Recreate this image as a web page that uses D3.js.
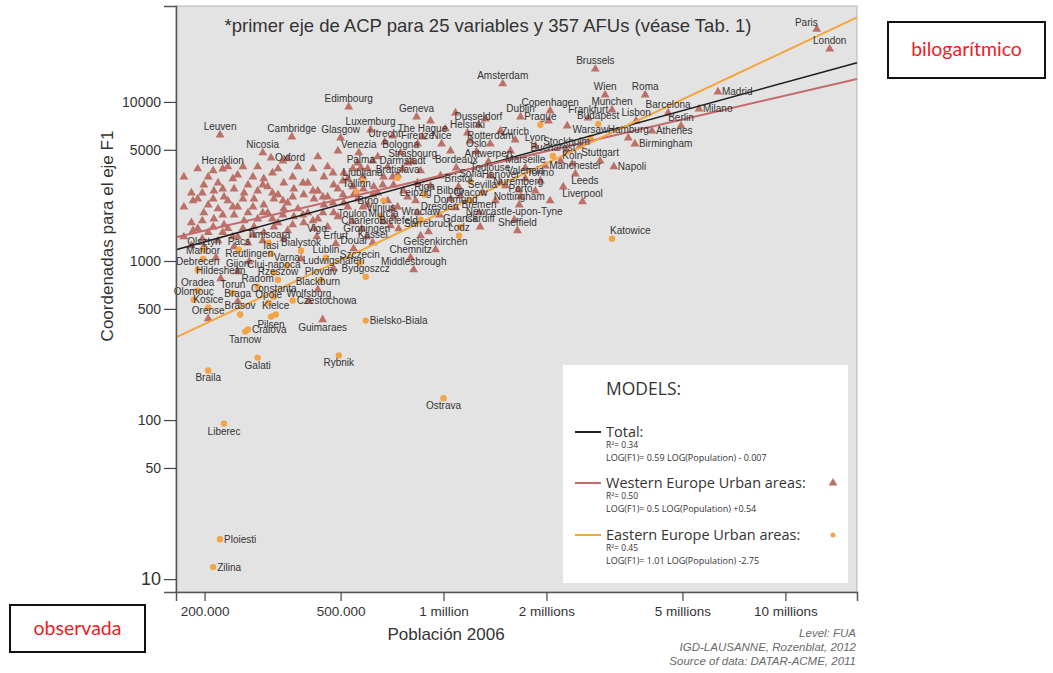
<!DOCTYPE html>
<html><head><meta charset="utf-8">
<script src="https://cdn.jsdelivr.net/npm/d3@7"></script>
<style>body{margin:0;background:#fff}</style>
</head><body>
<svg id="chart" width="1053" height="673"></svg>
<script>
// Western Europe urban areas with a name: [name, population 2006 (thousands), F1 coordinate]
const westNamed = [
  ["Paris",12350,28700],["London",13480,21500],["Brussels",2780,16100],["Amsterdam",1490,13000],
  ["Wien",2970,11070],["Roma",3890,11070],["Madrid",6350,11560],["Edimbourg",528,9300],
  ["Copenhagen",2050,8780],["Munchen",3110,8910],["Barcelona",4540,8530],["Dublin",1680,8050],
  ["Frankfurt",2650,7940],["Lisbon",3660,7600],["Milano",5590,9040],["Geneva",834,8050],
  ["Dusseldorf",1265,7180],["Berlin",4950,7070],["Luxemburg",612,6670],["Helsinki",1175,6380],
  ["The Hague",868,6030],["Glasgow",500,5940],["Leuven",222,6210],["Cambridge",360,6030],
  ["Utrecht",673,5610],["Firenze",840,5450],["Nice",987,5450],["Rotterdam",1370,5450],
  ["Zurich",1620,5770],["Lyon",1856,5290],["Nicosia",296,4790],["Venezia",565,4790],
  ["Bologna",749,4790],["Stockholm",2290,5000],["Oslo",1248,4860],["Birmingham",3630,5450],
  ["Strasbourg",812,4200],["Antwerpen",1353,4200],["Heraklion",226,3790],["Oxford",313,4450],
  ["Palma",573,3850],["Darmstadt",759,3790],["Stuttgart",2870,4260],["Koln",2380,4080],
  ["Bordeaux",1090,3850],["Marseille",1735,3850],["Manchester",2430,3530],["Napoli",3150,3910],
  ["Toulouse",1370,3430],["Valencia",1735,3290],["Torino",1920,3190],["Hanover",1470,3100],
  ["Bristol",1106,2920],["Leeds",2240,2920],["Nuremberg",1655,2800],["Sevilla",1300,2690],
  ["Porto",1680,2540],["Liverpool",2550,2360],["Leipzig",829,2390],["Bilbao",1048,2460],
  ["Nottingham",1665,2250],["Dortmund",1084,2160],["Bremen",1270,2010],["Dresden",974,1950],
  ["Newcastle-upon-Tyne",1610,1815],["Toulon",542,1765],["Murcia",668,1765],["Charleroi",576,1595],
  ["Bielefeld",739,1595],["Cardiff",1280,1640],["Sarrebruck",904,1527],["Sheffield",1645,1550],
  ["Vigo",426,1420],["Groningen",596,1420],["Erfurt",484,1285],["Kassel",621,1304],
  ["Douai",546,1194],["Gelsenkirchen",948,1178],["Chemnitz",801,1050],["Reutlingen",270,990],
  ["Middlesbrough",818,881],["Gijon",250,857],["Ludwigshafen",477,895],["Hildesheim",223,774],
  ["Blackburn",429,661],["Braga",250,556],["Wolfsburg",404,556],["Orense",205,434],
  ["Guimaraes",443,428],["Athenes",4070,6580],["Hamburg",3470,5940]
];

// Eastern Europe urban areas with a name
const eastNamed = [
  ["Prague",1920,7180],["Budapest",2835,7280],["Warsaw",2690,5940],["Bucharest",2090,4580],
  ["Bratislava",734,3330],["Ljubljana",580,3190],["Sofia",1200,3150],["Tallinn",557,2720],
  ["Riga",880,2610],["Cracow",1200,2390],["Brno",668,2390],["Vilnius",655,1920],
  ["Wroclaw",857,1815],["Gdansk",1120,1640],["Lodz",1110,1440],["Timisoara",308,1304],
  ["Olsztyn",199,1178],["Pacs",252,1178],["Iasi",313,1110],["Bialystok",383,1160],
  ["Lublin",453,1050],["Szczecin",569,975],["Maribor",198,1030],["Varna",348,935],
  ["Debrecen",191,881],["Cluj-napoca",319,845],["Bydgoszcz",592,797],["Rzeszow",328,763],
  ["Plovdiv",438,763],["Radom",286,690],["Oradea",191,651],["Torun",242,632],
  ["Constanta",319,597],["Olomouc",186,571],["Opole",308,547],["Kosice",205,509],
  ["Brasov",254,461],["Kielce",323,461],["Czestochowa",362,564],["Pilsen",313,447],
  ["Bielsko-Biala",592,422],["Craiova",268,371],["Tarnow",263,360],["Galati",286,247],
  ["Rybnik",494,255],["Braila",205,205],["Ostrava",1000,137],["Liberec",228,95],
  ["Ploiesti",222,17.8],["Zilina",212,11.9],["Katowice",3110,1380]
];

// Remaining Western urban areas without a label: [population (thousands), F1]
const westOther = [
  [174,3380],[183,2680],[174,2190],[183,1740],[174,1420],
  [191,3800],[199,3010],[191,2460],[199,2010],[191,1600],[199,1230],
  [205,3380],[213,2760],[205,2250],[213,1840],[205,1510],
  [219,3100],[228,2530],[219,2130],[228,1690],[219,1340],
  [234,3910],[244,2840],[234,2390],[244,1950],[234,1600],[244,1230],
  [250,3480],[261,2680],[250,2190],[261,1790],[250,1420],
  [268,3010],[279,2460],[268,2010],[279,1640],[268,1300],
  [286,3910],[298,3290],[286,2760],[298,2250],[286,1840],[298,1510],
  [306,2930],[319,2460],[306,2010],[319,1640],
  [328,3800],[341,3100],[328,2610],[341,2130],[328,1740],[341,1380],
  [350,4390],[365,2840],[350,2320],[365,1900],[350,1550],
  [375,3910],[390,2610],[375,2130],[390,1740],
  [401,3100],[418,2460],[401,2010],[418,1600],
  [429,4520],[447,3380],[429,2760],[447,2250],[429,1840],
  [458,3910],[477,3010],[458,2530],[477,2010],[458,1640],
  [491,4920],[511,3580],[491,2840],[511,2320],[491,1900],
  [525,3290],[546,2610],[525,2190],
  [561,4140],[583,2840],[561,2460],
  [600,3800],[625,2930],[600,2250],
  [642,4520],[668,3380],[642,2680],
  [687,3910],[714,3010],[687,2390],[714,1900],
  [734,3480],[764,2760],[734,2190],
  [785,4140],[839,3100],[785,2530],[839,2010],
  [185,2390],[185,1550],[197,2680],[197,1790],[197,1380],
  [212,3690],[212,2460],[212,1640],[226,2840],[226,1950],[226,1510],
  [242,3290],[242,2190],[242,1420],[259,3910],[259,2460],[259,1600],
  [277,3380],[277,2190],[277,1460],[296,3010],[296,2010],[296,1340],
  [316,3580],[316,2680],[316,1840],[339,4260],[339,2390],[339,1950],
  [362,3380],[362,2530],[362,1690],[388,3100],[388,1950],
  [415,3800],[415,2760],[415,1790],[444,2530],[444,2010],
  [475,3580],[475,2320],[508,3190],[508,2610],[543,3800],[543,2930],
  [581,3380],[581,2190],[621,4260],[621,2610],[664,3010],[710,3380],[710,2130],
  [216,1050],[383,1030],[183,1250],
  [916,7600],[1013,6780],[1084,8530],[1326,7820],[1200,5690],[1468,6580],[1570,4920],
  [2027,7600],[2300,7070],[1985,3960],[2200,4260],[2510,5290],[857,3690],[980,3430],
  [916,2970],[1120,2570],[1419,2390],[1517,2970],[1856,2760],[2050,2390],
  [700,1670],[857,1440],[710,6120],[1048,4920]
];

// Regression models: log10(F1) = slope * log10(Population) + intercept
const models = [
  {key:"Total", slope:0.59, intercept:-0.007, r2:"0.34", color:"#1d1d1d", eq:"LOG(F1)= 0.59 LOG(Population) - 0.007", title:"Total:"},
  {key:"West", slope:0.5, intercept:0.54, r2:"0.50", color:"#c46a6c", eq:"LOG(F1)= 0.5 LOG(Population) +0.54", title:"Western Europe Urban areas:"},
  {key:"East", slope:1.01, intercept:-2.75, r2:"0.45", color:"#f4a53c", eq:"LOG(F1)= 1.01 LOG(Population) -2.75", title:"Eastern Europe Urban areas:"}
];

const yTicks = [10, 50, 100, 500, 1000, 5000, 10000];
const xTicks = [200000, 500000, 1000000, 2000000, 5000000, 10000000];
const xTickLabels = ["200.000", "500.000", "1 million", "2 millions", "5 millions", "10 millions"];

// Where each label sits relative to its marker (default: centred above)
const labelAnchor = {
  Paris:"nw", Madrid:"e", Milano:"e", Athenes:"e", Birmingham:"e", Napoli:"e", Oxford:"e",
  Hamburg:"n", Brno:"w", Czestochowa:"e", "Bielsko-Biala":"e", Craiova:"e", Ploiesti:"e",
  Zilina:"e", Katowice:"ne", Leeds:"en", Pilsen:"s", Tarnow:"s", Galati:"s", Rybnik:"s",
  Braila:"s", Ostrava:"s", Liberec:"s", Guimaraes:"s"
};
const anchorOffset = {
  n:{dx:0, dy:-5, ta:"middle"}, s:{dx:0, dy:11, ta:"middle"},
  e:{dx:4, dy:3.5, ta:"start"}, w:{dx:-5, dy:3.5, ta:"end"},
  nw:{dx:1, dy:-3, ta:"end"}, ne:{dx:-2, dy:-5, ta:"start"}, en:{dx:8, dy:-3, ta:"start"}
};

const svg = d3.select("#chart");
const plot = {left:176, right:857, top:6, bottom:592};

const x = d3.scaleLog().domain([165000, 16200000]).range([plot.left, plot.right]);
const y = d3.scaleLog().domain([8.3, 40100]).range([plot.bottom, plot.top]);

const triColor = "#bb7168", dotColor = "#f2a446";
const tri = d3.symbol().type(d3.symbolTriangle).size(34);
const font = "Liberation Sans, Arial, sans-serif";

// panel
svg.append("rect").attr("x", plot.left).attr("y", plot.top)
  .attr("width", plot.right - plot.left).attr("height", plot.bottom - plot.top)
  .attr("fill", "#e3e3e3").attr("stroke", "#b5b5b5").attr("stroke-width", 1);

// title
svg.append("text").attr("x", 488).attr("y", 32).attr("text-anchor", "middle")
  .attr("font-family", font).attr("font-size", 18.5)
  .attr("fill", "#333").text("*primer eje de ACP para 25 variables y 357 AFUs (véase Tab. 1)");

const gPts = svg.append("g");
const west = westOther.map(d => ({pop:d[0]*1000, f1:d[1]}))
  .concat(westNamed.map(d => ({name:d[0], pop:d[1]*1000, f1:d[2]})));
const east = eastNamed.map(d => ({name:d[0], pop:d[1]*1000, f1:d[2]}));

gPts.selectAll("path.w").data(west).join("path").attr("class", "w")
  .attr("d", tri).attr("fill", triColor)
  .attr("transform", d => `translate(${x(d.pop)},${y(d.f1)})`);
gPts.selectAll("circle.e").data(east).join("circle").attr("class", "e")
  .attr("cx", d => x(d.pop)).attr("cy", d => y(d.f1)).attr("r", 3.2).attr("fill", dotColor);

// regression lines across the whole population range
const line = d3.line().x(d => x(d[0])).y(d => y(d[1]));
const popEnds = x.domain();
models.forEach(m => {
  const pts = popEnds.map(p => [p, Math.pow(10, m.slope * Math.log10(p) + m.intercept)]);
  svg.append("path").attr("d", line(pts)).attr("fill", "none")
    .attr("stroke", m.color).attr("stroke-width", m.key === "Total" ? 1.6 : 2);
});

// city labels
const named = westNamed.map(d => ({name:d[0], pop:d[1]*1000, f1:d[2]})).concat(east);
svg.append("g").selectAll("text").data(named).join("text")
  .each(function(d) {
    const a = anchorOffset[labelAnchor[d.name] || "n"];
    d3.select(this).attr("x", x(d.pop) + a.dx).attr("y", y(d.f1) + a.dy)
      .attr("text-anchor", a.ta);
  })
  .attr("font-family", font).attr("font-size", 10)
  .attr("fill", "#333").text(d => d.name);

// axes
const yAxis = d3.axisLeft(y).tickValues(yTicks).tickFormat(d => d).tickSize(12).tickPadding(3);
const gy = svg.append("g").attr("transform", `translate(${plot.left},0)`).call(yAxis);
const xAxis = d3.axisBottom(x).tickValues(xTicks).tickFormat((d, i) => xTickLabels[i]).tickSize(9).tickPadding(5);
const gx = svg.append("g").attr("transform", `translate(0,${plot.bottom})`).call(xAxis);
[gx, gy].forEach(g => {
  g.select(".domain").attr("stroke", "#555").attr("stroke-width", 1.5);
  g.selectAll(".tick line").attr("stroke", "#444").attr("stroke-width", 1.2);
  g.selectAll(".tick text").attr("fill", "#333").attr("font-family", font).attr("font-size", 13.5);
});
gy.selectAll(".tick text").attr("font-size", 14);
gy.selectAll(".tick text").filter(d => d === 10).attr("font-size", 18);

svg.append("text").attr("transform", "translate(113,236) rotate(-90)").attr("text-anchor", "middle")
  .attr("font-family", font).attr("font-size", 17)
  .attr("fill", "#333").text("Coordenadas para el eje F1");
svg.append("text").attr("x", 446).attr("y", 640).attr("text-anchor", "middle")
  .attr("font-family", font).attr("font-size", 17)
  .attr("fill", "#333").text("Población 2006");

// source notes
const notes = ["Level: FUA", "IGD-LAUSANNE, Rozenblat, 2012", "Source of data: DATAR-ACME, 2011"];
svg.append("g").selectAll("text").data(notes).join("text")
  .attr("x", 856).attr("y", (d, i) => 637 + i * 14).attr("text-anchor", "end")
  .attr("font-family", font).attr("font-size", 11.5)
  .attr("font-style", "italic").attr("fill", "#6a6a6a").text(d => d);

// legend
const lg = svg.append("g");
lg.append("rect").attr("x", 563).attr("y", 365).attr("width", 285).attr("height", 218).attr("fill", "#fff");
lg.append("text").attr("x", 606).attr("y", 395).attr("font-family", "Open Sans, sans-serif")
  .attr("font-size", 17.5).attr("fill", "#333").text("MODELS:");
const rowY = [432, 483, 535];
models.forEach((m, i) => {
  const yy = rowY[i];
  lg.append("line").attr("x1", 575).attr("x2", 601).attr("y1", yy).attr("y2", yy)
    .attr("stroke", m.color).attr("stroke-width", 2);
  lg.append("text").attr("x", 606).attr("y", yy + 5).attr("font-family", "Open Sans, sans-serif")
    .attr("font-size", 14.5).attr("fill", "#333").text(m.title);
  lg.append("text").attr("x", 606).attr("y", yy + 16).attr("font-family", "Open Sans, sans-serif")
    .attr("font-size", 8.5).attr("fill", "#333").text("R²= " + m.r2);
  lg.append("text").attr("x", 606).attr("y", yy + 29).attr("font-family", "Open Sans, sans-serif")
    .attr("font-size", 9).attr("fill", "#333").text(m.eq);
});
lg.append("path").attr("d", tri).attr("fill", triColor).attr("transform", `translate(833,${rowY[1]})`);
lg.append("circle").attr("cx", 833).attr("cy", rowY[2]).attr("r", 2.5).attr("fill", dotColor);

// annotation boxes
function noteBox(bx, by, bw, bh, label) {
  svg.append("rect").attr("x", bx).attr("y", by).attr("width", bw).attr("height", bh)
    .attr("fill", "#fff").attr("stroke", "#111").attr("stroke-width", 2);
  svg.append("text").attr("x", bx + bw / 2).attr("y", by + bh / 2 + 6).attr("text-anchor", "middle")
    .attr("font-family", "Lato, sans-serif").attr("font-size", 19.5).attr("fill", "#ee1c25").text(label);
}
noteBox(888, 22, 157, 56, "bilogarítmico");
noteBox(10, 605, 135, 47, "observada");
</script>
</body></html>
